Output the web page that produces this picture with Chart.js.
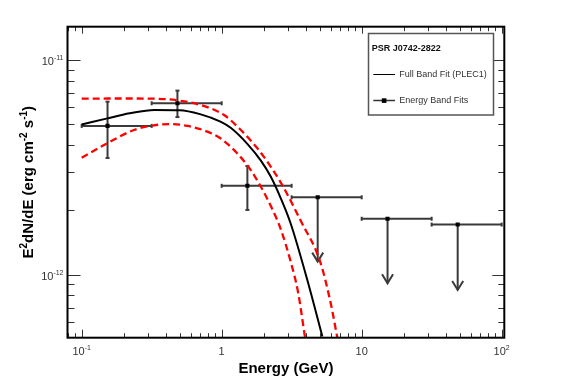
<!DOCTYPE html>
<html>
<head>
<meta charset="utf-8">
<script src="https://cdn.jsdelivr.net/npm/chart.js@4.4.1/dist/chart.umd.min.js"></script>
<style>
  html, body { margin: 0; padding: 0; background: #fff; }
  #wrap { width: 567px; height: 384px; }
</style>
</head>
<body>
<div id="wrap"><canvas id="sed" width="567" height="384"></canvas></div>
<script>
// energies in GeV, E^2 dN/dE in erg cm^-2 s^-1

// full band fit (PLEC1) and its 1-sigma envelope
const fitEnergy = [0.1, 0.15, 0.22, 0.33, 0.5, 0.7, 0.98, 1.16, 1.53, 1.9, 2.24, 2.64, 3.11, 4.09, 5.24];
const fitFlux = [5.0e-12, 5.32e-12, 5.63e-12, 5.84e-12, 5.82e-12, 5.58e-12, 5.15e-12, 4.82e-12, 4.05e-12, 3.40e-12, 2.86e-12, 2.27e-12, 1.73e-12, 0.944e-12, 0.515e-12];

const upperEnergy = [0.1, 0.2, 0.35, 0.5, 0.71, 1.04, 1.37, 1.8, 2.24, 2.7, 3.67, 5.05, 6.0, 6.7];
const upperFlux = [6.59e-12, 6.6e-12, 6.58e-12, 6.45e-12, 6.15e-12, 5.53e-12, 4.71e-12, 3.87e-12, 3.18e-12, 2.62e-12, 1.78e-12, 1.15e-12, 0.74e-12, 0.509e-12];

const lowerEnergy = [0.1, 0.153, 0.236, 0.328, 0.432, 0.569, 0.79, 0.98, 1.29, 1.61, 1.9, 2.24, 2.64, 3.11, 3.52, 3.94];
const lowerFlux = [3.5e-12, 4.09e-12, 4.71e-12, 4.95e-12, 5.02e-12, 4.92e-12, 4.63e-12, 4.31e-12, 3.67e-12, 3.07e-12, 2.57e-12, 2.09e-12, 1.63e-12, 1.15e-12, 0.822e-12, 0.509e-12];

// energy band fits
const bandEnergy = [0.153, 0.483, 1.526];
const bandFlux = [4.92e-12, 6.27e-12, 2.59e-12];
const bandFluxLo = [3.49e-12, 5.41e-12, 2.0e-12];
const bandFluxHi = [6.38e-12, 7.18e-12, 3.2e-12];
const bandEmin = [0.1, 0.316, 1.0];
const bandEmax = [0.316, 1.0, 3.16];

// upper limits
const ulEnergy = [4.85, 15.3, 48.5];
const ulFlux = [2.29e-12, 1.82e-12, 1.71e-12];
const ulEmin = [3.16, 10, 31.6];
const ulEmax = [10, 31.6, 100];
const ulArrowTip = [1.15e-12, 0.912e-12, 0.849e-12];

// axes
const xRange = [0.0792, 104.4];
const yRange = [5.09e-13, 1.424e-11];
const xMajorTicks = [0.1, 1, 10, 100];
const xTickLabels = [['10', '-1'], ['1', ''], ['10', ''], ['10', '2']];
const yMajorTicks = [1e-11, 1e-12];
const yTickLabels = [['10', '-11'], ['10', '-12']];

const FONT = '"Liberation Sans", Arial, Helvetica, sans-serif';

function toPoints(xs, ys) {
    return xs.map((x, i) => ({ x: x, y: ys[i] }));
}

function minorTicks(min, max) {
    const out = [];
    for (let d = Math.floor(Math.log10(min)); d <= Math.ceil(Math.log10(max)); d++) {
        for (let m = 2; m <= 9; m++) {
            const v = m * Math.pow(10, d);
            if (v >= min && v <= max) out.push(v);
        }
    }
    return out;
}

// "10" with a superscript, the ROOT way
function drawPow(ctx, base, exp, x, y, align) {
    ctx.font = '11px ' + FONT;
    const wb = ctx.measureText(base).width;
    ctx.font = '7px ' + FONT;
    const we = exp ? ctx.measureText(exp).width : 0;
    const total = wb + we;
    let x0 = x;
    if (align === 'center') x0 = x - total / 2;
    if (align === 'right') x0 = x - total;
    ctx.textAlign = 'left';
    ctx.textBaseline = 'alphabetic';
    ctx.font = '11px ' + FONT;
    ctx.fillText(base, x0, y);
    if (exp) {
        ctx.font = '7px ' + FONT;
        ctx.fillText(exp, x0 + wb, y - 5);
    }
}

function line(ctx, x1, y1, x2, y2) {
    ctx.beginPath();
    ctx.moveTo(x1, y1);
    ctx.lineTo(x2, y2);
    ctx.stroke();
}

const errorBars = {
    id: 'errorBars',
    beforeDatasetsDraw(chart) {
        const ctx = chart.ctx;
        const xs = chart.scales.x, ys = chart.scales.y;
        ctx.save();
        ctx.strokeStyle = '#3a3a3a';
        ctx.lineWidth = 2;
        const cap = 2;
        bandEnergy.forEach((e, i) => {
            const px = xs.getPixelForValue(e), py = ys.getPixelForValue(bandFlux[i]);
            const xl = xs.getPixelForValue(bandEmin[i]), xr = xs.getPixelForValue(bandEmax[i]);
            const yt = ys.getPixelForValue(bandFluxHi[i]), yb = ys.getPixelForValue(bandFluxLo[i]);
            line(ctx, xl, py, xr, py);
            line(ctx, xl, py - cap, xl, py + cap);
            line(ctx, xr, py - cap, xr, py + cap);
            line(ctx, px, yt, px, yb);
            line(ctx, px - cap, yt, px + cap, yt);
            line(ctx, px - cap, yb, px + cap, yb);
        });
        ulEnergy.forEach((e, i) => {
            const px = xs.getPixelForValue(e), py = ys.getPixelForValue(ulFlux[i]);
            const xl = xs.getPixelForValue(ulEmin[i]), xr = xs.getPixelForValue(ulEmax[i]);
            const tip = ys.getPixelForValue(ulArrowTip[i]);
            line(ctx, xl, py, xr, py);
            line(ctx, xl, py - cap, xl, py + cap);
            line(ctx, xr, py - cap, xr, py + cap);
            line(ctx, px, py, px, tip);
            ctx.beginPath();
            ctx.moveTo(px - 5.5, tip - 9);
            ctx.lineTo(px, tip);
            ctx.lineTo(px + 5.5, tip - 9);
            ctx.stroke();
        });
        ctx.restore();
    }
};

const rootFrame = {
    id: 'rootFrame',
    afterDraw(chart) {
        const ctx = chart.ctx;
        const a = chart.chartArea;
        const xs = chart.scales.x, ys = chart.scales.y;
        ctx.save();

        // ticks
        ctx.strokeStyle = '#333';
        ctx.lineWidth = 1;
        xMajorTicks.forEach(v => {
            const px = Math.round(xs.getPixelForValue(v)) + 0.5;
            line(ctx, px, a.bottom, px, a.bottom - 8);
            line(ctx, px, a.top, px, a.top + 7);
        });
        minorTicks(xRange[0], xRange[1]).forEach(v => {
            const px = Math.round(xs.getPixelForValue(v)) + 0.5;
            line(ctx, px, a.bottom, px, a.bottom - 4.5);
            line(ctx, px, a.top, px, a.top + 4.5);
        });
        yMajorTicks.forEach(v => {
            const py = Math.round(ys.getPixelForValue(v)) + 0.5;
            line(ctx, a.left, py, a.left + 13, py);
            line(ctx, a.right, py, a.right - 12, py);
        });
        minorTicks(yRange[0], yRange[1]).forEach(v => {
            const py = Math.round(ys.getPixelForValue(v)) + 0.5;
            line(ctx, a.left, py, a.left + 7, py);
            line(ctx, a.right, py, a.right - 6, py);
        });

        // frame
        ctx.strokeStyle = '#000';
        ctx.lineWidth = 2;
        ctx.strokeRect(a.left, a.top, a.right - a.left, a.bottom - a.top);

        // tick labels
        ctx.fillStyle = '#333';
        xMajorTicks.forEach((v, i) => {
            drawPow(ctx, xTickLabels[i][0], xTickLabels[i][1], xs.getPixelForValue(v), a.bottom + 17.5, 'center');
        });
        yMajorTicks.forEach((v, i) => {
            drawPow(ctx, yTickLabels[i][0], yTickLabels[i][1], a.left - 4, ys.getPixelForValue(v) + 5.3, 'right');
        });

        // axis titles
        ctx.fillStyle = '#000';
        ctx.font = 'bold 15px ' + FONT;
        ctx.textAlign = 'center';
        ctx.textBaseline = 'alphabetic';
        ctx.fillText('Energy (GeV)', (a.left + a.right) / 2, 373);

        const parts = [['E', 0], ['2', 1], ['dN/dE (erg cm', 0], ['-2', 1], [' s', 0], ['-1', 1], [')', 0]];
        let total = 0;
        parts.forEach(p => {
            ctx.font = (p[1] ? 'bold 10px ' : 'bold 15px ') + FONT;
            total += ctx.measureText(p[0]).width;
        });
        ctx.save();
        ctx.translate(33, (a.top + a.bottom) / 2);
        ctx.rotate(-Math.PI / 2);
        ctx.textAlign = 'left';
        let cx = -total / 2;
        parts.forEach(p => {
            ctx.font = (p[1] ? 'bold 10px ' : 'bold 15px ') + FONT;
            ctx.fillText(p[0], cx, p[1] ? -6 : 0);
            cx += ctx.measureText(p[0]).width;
        });
        ctx.restore();

        // legend
        ctx.fillStyle = '#fff';
        ctx.fillRect(368.5, 33.5, 125, 81.5);
        ctx.strokeStyle = '#555';
        ctx.lineWidth = 1.5;
        ctx.strokeRect(368.5, 33.5, 125, 81.5);
        ctx.fillStyle = '#111';
        ctx.textAlign = 'left';
        ctx.textBaseline = 'middle';
        ctx.font = 'bold 9px ' + FONT;
        ctx.fillText('PSR J0742-2822', 371.7, 49);
        ctx.fillStyle = '#333';
        ctx.font = '9px ' + FONT;
        ctx.fillText('Full Band Fit (PLEC1)', 399.3, 75);
        ctx.fillText('Energy Band Fits', 399.3, 100.7);
        ctx.strokeStyle = '#000';
        ctx.lineWidth = 1;
        line(ctx, 373.3, 74.5, 395, 74.5);
        ctx.strokeStyle = '#333';
        ctx.lineWidth = 1.5;
        line(ctx, 373.3, 100.5, 395, 100.5);
        ctx.fillStyle = '#000';
        ctx.fillRect(381.8, 98.3, 4.6, 4.6);

        ctx.restore();
    }
};

new Chart(document.getElementById('sed'), {
    type: 'scatter',
    data: {
        datasets: [
            {
                label: 'Fit upper bound',
                data: toPoints(upperEnergy, upperFlux),
                showLine: true,
                borderColor: '#ff0000',
                borderWidth: 2.3,
                borderDash: [7, 4],
                pointRadius: 0,
                cubicInterpolationMode: 'monotone'
            },
            {
                label: 'Fit lower bound',
                data: toPoints(lowerEnergy, lowerFlux),
                showLine: true,
                borderColor: '#ff0000',
                borderWidth: 2.3,
                borderDash: [7, 4],
                pointRadius: 0,
                cubicInterpolationMode: 'monotone'
            },
            {
                label: 'Full Band Fit (PLEC1)',
                data: toPoints(fitEnergy, fitFlux),
                showLine: true,
                borderColor: '#000',
                borderWidth: 2,
                pointRadius: 0,
                cubicInterpolationMode: 'monotone'
            },
            {
                label: 'Energy Band Fits',
                data: toPoints(bandEnergy, bandFlux),
                pointStyle: 'rect',
                pointRadius: 2.9,
                backgroundColor: '#000',
                borderWidth: 0
            },
            {
                label: 'Upper limits',
                data: toPoints(ulEnergy, ulFlux),
                pointStyle: 'rect',
                pointRadius: 2.9,
                backgroundColor: '#000',
                borderWidth: 0
            }
        ]
    },
    options: {
        responsive: false,
        animation: false,
        layout: { padding: { left: 67.5, right: 62.7, top: 26.7, bottom: 46.3 } },
        plugins: {
            legend: { display: false },
            tooltip: { enabled: false }
        },
        scales: {
            x: { type: 'logarithmic', min: xRange[0], max: xRange[1], display: false },
            y: { type: 'logarithmic', min: yRange[0], max: yRange[1], display: false }
        }
    },
    plugins: [errorBars, rootFrame]
});
</script>
</body>
</html>
